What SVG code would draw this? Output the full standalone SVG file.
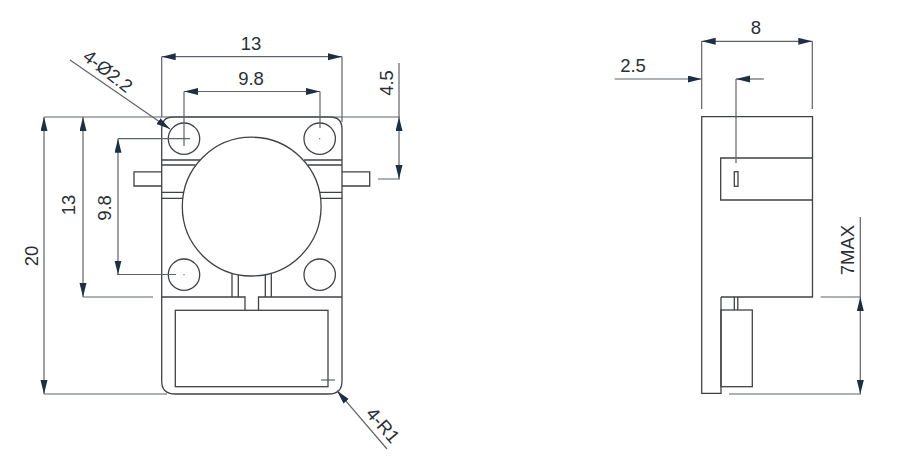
<svg xmlns="http://www.w3.org/2000/svg" width="900" height="458" viewBox="0 0 900 458">
<style>
.o{fill:none;stroke:#3f4245;stroke-width:1.3}
.d{fill:none;stroke:#5f646a;stroke-width:1.2}
.a{marker-end:url(#ah)}
text{font-family:"Liberation Sans",Arial,sans-serif;font-size:18.5px;fill:#2a2f36;text-anchor:middle}
</style>
<defs>
<marker id="ah" markerUnits="userSpaceOnUse" markerWidth="15" markerHeight="8" refX="14" refY="3.5" orient="auto">
<path d="M0,0L14,3.5L0,7Z" fill="#1c2f45"/>
</marker>
</defs>
<rect width="900" height="458" fill="#fff"/>
<g id="front-view">
<path class="o" d="M161.7,297V129Q161.7,117 173,117H330Q342,117 342,129V381Q342,394 329,394H175Q161.7,394 161.7,381V297H245V310M258.5,310V297H342"/>
<rect class="o" x="175.3" y="310.3" width="152.7" height="76.4"/>
<circle class="o" cx="251.7" cy="206.6" r="69.4"/>
<circle class="o" cx="184" cy="138.7" r="15.7"/>
<circle class="o" cx="319.7" cy="138.7" r="15.7"/>
<circle class="o" cx="184" cy="274.7" r="15.7"/>
<circle class="o" cx="319.7" cy="274.7" r="15.7"/>
<path class="o" d="M161.7,160H200M161.7,165H195.5M161.7,192.3H184M161.7,198.3H183M304,160H342M308,165H342M319.5,192.3H342M321,198.3H342"/>
<path class="o" d="M232,273V297M238.3,274.5V297M265.3,274.5V297M271.3,273V297"/>
<path class="o" d="M161.7,171.8H134V186H161.7M342,171.8H369.7V186H342"/>
</g>
<g id="side-view">
<path class="o" d="M721,297H812.5V116.7H701.7V393.3H721V297"/>
<path class="o" d="M812.5,158H720.7V200H812.5"/>
<rect class="o" x="734.3" y="171.7" width="3.7" height="14.6"/>
<rect class="o" x="721" y="310" width="31.3" height="76.7"/>
<path class="o" d="M734.3,297V310M737.8,297V310"/>
</g>
<g id="connectors">
<path class="d" d="M44,117H400"/>
<path class="d" d="M161.7,56.7V117M342,56.7V122M184,91.5V146M320,91.5V128"/>
<line class="d a" x1="251" y1="56.7" x2="161.7" y2="56.7"/>
<line class="d a" x1="251" y1="56.7" x2="342" y2="56.7"/>
<line class="d a" x1="251" y1="91.5" x2="184" y2="91.5"/>
<line class="d a" x1="251" y1="91.5" x2="320" y2="91.5"/>
<line class="d a" x1="70" y1="60" x2="170" y2="129"/>
<path class="d" d="M118,138.7H190M117,274.5H176M83,297H153M44,394H167M378,179H400"/>
<path class="d" d="M319.2,138.7h1M183.5,274.7h1"/>
<line class="d a" x1="44" y1="255" x2="44" y2="117"/>
<line class="d a" x1="44" y1="255" x2="44" y2="394"/>
<line class="d a" x1="83" y1="207" x2="83" y2="117"/>
<line class="d a" x1="83" y1="207" x2="83" y2="297"/>
<line class="d a" x1="118" y1="206" x2="118" y2="138.7"/>
<line class="d a" x1="118" y1="206" x2="118" y2="274.5"/>
<path class="d" d="M399,63V117"/>
<line class="d a" x1="399" y1="148" x2="399" y2="117"/>
<line class="d a" x1="399" y1="148" x2="399" y2="179"/>
<line class="d a" x1="387" y1="449" x2="337" y2="390.7"/>
<path class="d" d="M321,380H335"/>
<path class="d" d="M701.7,41.3V109M812.3,41.3V109M736,79V163"/>
<line class="d a" x1="757" y1="41.3" x2="701.7" y2="41.3"/>
<line class="d a" x1="757" y1="41.3" x2="812.3" y2="41.3"/>
<line class="d a" x1="614.7" y1="79" x2="701.7" y2="79"/>
<line class="d a" x1="764" y1="79" x2="736" y2="79"/>
<path class="d" d="M860.3,217V297M820.7,297H861M729,394H861"/>
<line class="d a" x1="860.3" y1="345" x2="860.3" y2="297"/>
<line class="d a" x1="860.3" y1="345" x2="860.3" y2="394"/>
</g>
<g id="labels">
<text x="251" y="49.5">13</text>
<text x="251" y="84.5">9.8</text>
<text transform="translate(392.5,83) rotate(-90)">4.5</text>
<text transform="translate(108,71) rotate(38)" y="6.5">4-Ø2.2</text>
<text transform="translate(75,205) rotate(-90)">13</text>
<text transform="translate(37.5,256) rotate(-90)">20</text>
<text transform="translate(110.5,208) rotate(-90)">9.8</text>
<text transform="translate(383,425) rotate(49)" y="6.5">4-R1</text>
<text x="756" y="34">8</text>
<text x="633" y="71.5">2.5</text>
<text transform="translate(853.5,250) rotate(-90)">7MAX</text>
</g>
</svg>
